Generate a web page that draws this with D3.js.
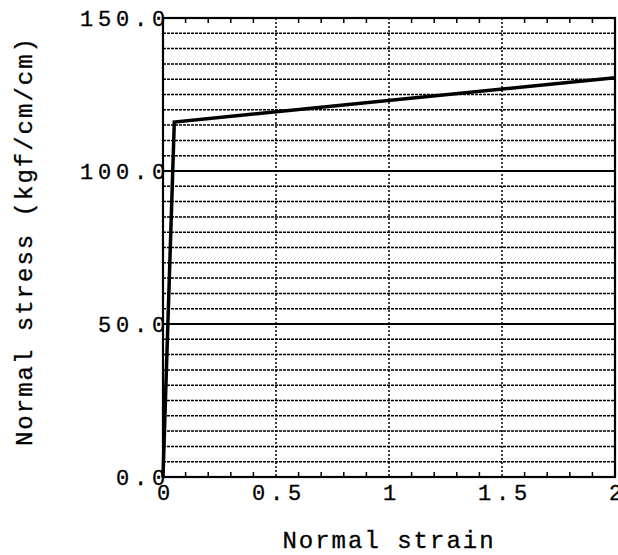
<!DOCTYPE html>
<html>
<head>
<meta charset="utf-8">
<script src="https://cdn.jsdelivr.net/npm/d3@7"></script>
<style>
  body { margin: 0; background: #fff; }
  svg { display: block; }
  .tick text { font-family: "Liberation Mono", monospace; }
</style>
</head>
<body>
<div class="stress_chart"></div>
<script>
// curve
var strain = [0, 0.05, 2];
var stress = [0, 116, 130.5];

var xTicks = [0, 0.5, 1, 1.5, 2];
var xTickLabels = ["0", "0.5", "1", "1.5", "2"];
var xMinor = [0.1, 0.2, 0.3, 0.4, 0.6, 0.7, 0.8, 0.9, 1.1, 1.2, 1.3, 1.4, 1.6, 1.7, 1.8, 1.9];
var yTicks = [0, 50, 100, 150];
var yGrid = d3.range(0, 151, 5);

// set the dimensions and margins of the graph
var margin = {top: 18, right: 3, bottom: 78, left: 163},
  width = 618 - margin.left - margin.right,
  height = 555 - margin.top - margin.bottom;

var svg = d3.select(".stress_chart")
.append("svg")
  .attr("width", 618)
  .attr("height", 555)
.append("g")
  .attr("transform", "translate(" + margin.left + "," + margin.top + ")");

var x = d3.scaleLinear().domain([0, 2]).range([0, width]);
var y = d3.scaleLinear().domain([0, 150]).range([height, 0]);

// horizontal grid, solid at the labelled values
svg.selectAll(".hgrid")
  .data(yGrid.filter(function(d) { return d > 0 && d < 150; }))
  .enter().append("line")
    .attr("class", "hgrid")
    .attr("x1", 0).attr("x2", width)
    .attr("y1", function(d) { return y(d); })
    .attr("y2", function(d) { return y(d); })
    .style("stroke", "#000")
    .style("stroke-width", function(d) { return d % 50 == 0 ? 1.8 : 1.5; })
    .style("stroke-dasharray", function(d) { return d % 50 == 0 ? null : "3,1"; });

// vertical grid
svg.selectAll(".vgrid")
  .data(xTicks.filter(function(d) { return d > 0 && d < 2; }))
  .enter().append("line")
    .attr("class", "vgrid")
    .attr("y1", 0).attr("y2", height)
    .attr("x1", function(d) { return x(d); })
    .attr("x2", function(d) { return x(d); })
    .style("stroke", "#000")
    .style("stroke-width", 1.5)
    .style("stroke-dasharray", "2,2");

// minor ticks, top and bottom, pointing in
svg.selectAll(".mtick")
  .data(xMinor.concat(xMinor))
  .enter().append("line")
    .attr("x1", function(d) { return x(d); })
    .attr("x2", function(d) { return x(d); })
    .attr("y1", function(d, i) { return i < xMinor.length ? height : 0; })
    .attr("y2", function(d, i) { return i < xMinor.length ? height - 5 : 5; })
    .style("stroke", "#000")
    .style("stroke-width", 1.5);

// frame
svg.append("rect")
  .attr("width", width)
  .attr("height", height)
  .style("fill", "none")
  .style("stroke", "#000")
  .style("stroke-width", 2.2);

// curve
var pts = strain.map(function(d, i) { return [d, stress[i]]; });
svg.append("path")
  .datum(pts)
  .attr("d", d3.line()
    .x(function(d) { return x(d[0]); })
    .y(function(d) { return y(d[1]); }))
  .style("fill", "none")
  .style("stroke", "#000")
  .style("stroke-width", 3.5)
  .style("stroke-linejoin", "miter");

// axes for the labels only
var xAxis = d3.axisBottom(x)
  .tickValues(xTicks)
  .tickSize(0)
  .tickPadding(0)
  .tickFormat(function(d, i) { return xTickLabels[i]; });

svg.append("g")
  .attr("class", "x axis")
  .attr("transform", "translate(0," + height + ")")
  .call(xAxis)
  .call(function(g) { g.select(".domain").remove(); })
  .selectAll("text")
    .attr("font-size", 22)
    .attr("fill", "#000")
    .attr("stroke", "#000")
    .attr("stroke-width", 0.3)
    .style("letter-spacing", "4.8px")
    .attr("dx", 2.4)
    .attr("y", 23)
    .attr("dy", 0);

var yAxis = d3.axisLeft(y)
  .tickValues(yTicks)
  .tickSize(0)
  .tickPadding(0)
  .tickFormat(d3.format(".1f"));

svg.append("g")
  .attr("class", "y axis")
  .call(yAxis)
  .call(function(g) { g.select(".domain").remove(); })
  .selectAll("text")
    .attr("font-size", 22)
    .attr("fill", "#000")
    .attr("stroke", "#000")
    .attr("stroke-width", 0.3)
    .style("letter-spacing", "4.8px")
    .attr("x", 7)
    .attr("dy", "0.36em");

// axis titles
svg.append("text")
  .attr("x", 388 - margin.left + 1)
  .attr("y", 548 - margin.top)
  .attr("text-anchor", "middle")
  .attr("stroke", "#000")
  .attr("stroke-width", 0.3)
  .style("font-family", "'Liberation Mono', monospace")
  .style("font-size", "24px")
  .style("letter-spacing", "2px")
  .text("Normal strain");

svg.append("text")
  .attr("transform", "translate(" + (32 - margin.left) + "," + (242 - margin.top) + ") rotate(-90)")
  .attr("x", 1)
  .attr("text-anchor", "middle")
  .attr("stroke", "#000")
  .attr("stroke-width", 0.3)
  .style("font-family", "'Liberation Mono', monospace")
  .style("font-size", "24px")
  .style("letter-spacing", "2px")
  .text("Normal stress (kgf/cm/cm)");
</script>
</body>
</html>
